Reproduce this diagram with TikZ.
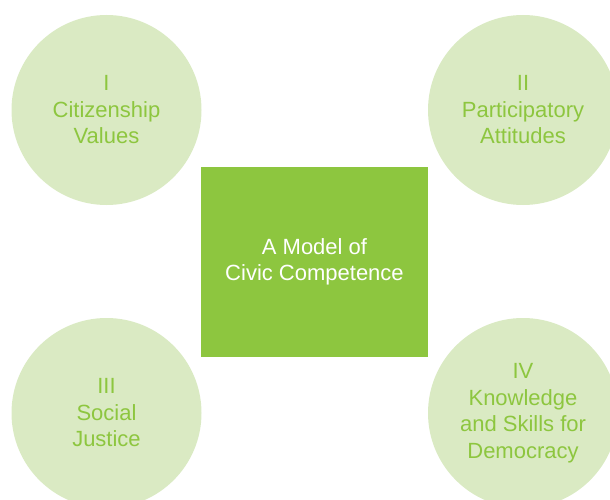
\documentclass[tikz,border=0pt]{standalone}
\usepackage{fontspec}
\setmainfont{Liberation Sans}
\definecolor{leafgreen}{HTML}{8DC63F}
\definecolor{palegreen}{HTML}{DAEAC3}
\begin{document}
\begin{tikzpicture}[x=1pt,y=-1pt,
  pillar/.style={circle, fill=palegreen, draw=none, minimum size=190pt, inner sep=0pt,
    text=leafgreen, align=center, font=\fontsize{22}{26.5}\selectfont},
  core/.style={rectangle, fill=leafgreen, draw=none, minimum width=227pt, minimum height=190pt,
    inner sep=0pt, text=white, align=center, font=\fontsize{22}{26.5}\selectfont}]
  \useasboundingbox (0,0) rectangle (610,500);
  \clip (0,0) rectangle (610,500);
  % four components of civic competence
  \node[pillar] (values) at (106.5,110) {I\\Citizenship\\Values};
  \node[pillar] (attitudes) at (523,110) {II\\Participatory\\Attitudes};
  \node[pillar] (justice) at (106.5,413) {III\\Social\\Justice};
  \node[pillar] (knowledge) at (523,413) {IV\\Knowledge\\and Skills for\\Democracy};
  % central model box
  \node[core] (model) at (314.5,262) {A Model of\\Civic Competence};
\end{tikzpicture}
\end{document}
